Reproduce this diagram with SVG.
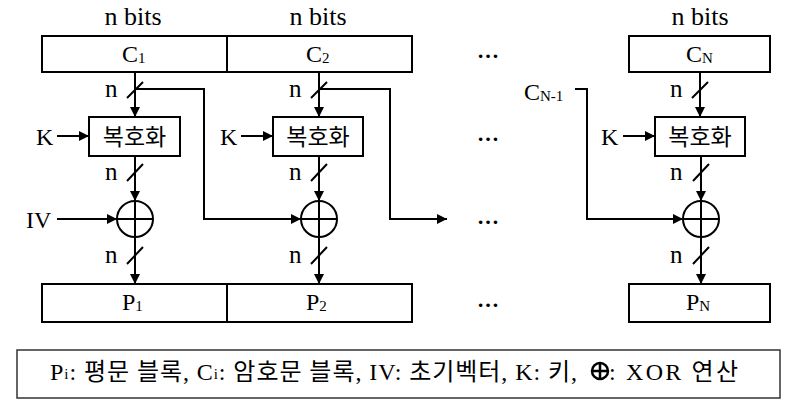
<svg xmlns="http://www.w3.org/2000/svg" width="800" height="410" viewBox="0 0 800 410">
<style>
text{font-family:"Liberation Serif","Noto Sans CJK KR",serif;fill:#000;font-size:24px}
.c{text-anchor:middle}
.box{fill:#fff;stroke:#000;stroke-width:2}
.ln{fill:none;stroke:#000;stroke-width:2}
.sl{stroke:#000;stroke-width:2}
.sub{font-size:15px}
.nb{font-size:26px;text-anchor:middle}
.n{font-size:25px}
.kr{font-size:23px;text-anchor:middle}
.dots{font-size:22px;font-weight:bold;text-anchor:middle}
.lg{font-size:24px}
</style>
<defs>
<marker id="ah" viewBox="0 0 10 10" refX="10" refY="5" markerWidth="10" markerHeight="10" markerUnits="userSpaceOnUse" orient="auto">
<path d="M0,0 L10,5 L0,10 z" fill="#000"/>
</marker>
</defs>
<rect width="800" height="410" fill="#fff"/>

<g id="labels-top">
<text class="nb" x="133" y="25">n bits</text>
<text class="nb" x="318" y="25">n bits</text>
<text class="nb" x="700" y="25">n bits</text>
</g>

<g id="c1"><rect class="box" x="42" y="36" width="185" height="36"/><text x="122" y="62">C<tspan class="sub" dy="1">1</tspan></text></g>
<g id="c2"><rect class="box" x="227" y="36" width="185" height="36"/><text x="306" y="62">C<tspan class="sub" dy="1">2</tspan></text></g>
<g id="cn"><rect class="box" x="629" y="36" width="141" height="36"/><text x="686" y="62">C<tspan class="sub" dy="1">N</tspan></text></g>

<g id="d1"><rect class="box" x="89" y="117" width="91" height="39"/><text class="kr" x="134.5" y="145">복호화</text></g>
<g id="d2"><rect class="box" x="273" y="117" width="90" height="39"/><text class="kr" x="318" y="145">복호화</text></g>
<g id="dn"><rect class="box" x="655" y="117" width="90" height="39"/><text class="kr" x="700" y="145">복호화</text></g>

<g id="x1"><circle class="ln" cx="135" cy="219" r="18"/><path class="ln" d="M117,219 H153 M135,201 V237"/></g>
<g id="x2"><circle class="ln" cx="319" cy="219" r="18"/><path class="ln" d="M301,219 H337 M319,201 V237"/></g>
<g id="xn"><circle class="ln" cx="701" cy="219" r="18"/><path class="ln" d="M683,219 H719 M701,201 V237"/></g>

<g id="p1"><rect class="box" x="42" y="284" width="185" height="38"/><text x="122" y="310">P<tspan class="sub" dy="1">1</tspan></text></g>
<g id="p2"><rect class="box" x="227" y="284" width="185" height="38"/><text x="306" y="310">P<tspan class="sub" dy="1">2</tspan></text></g>
<g id="pn"><rect class="box" x="629" y="284" width="141" height="38"/><text x="686" y="310">P<tspan class="sub" dy="1">N</tspan></text></g>

<g id="inputs">
<text x="36" y="145">K</text>
<text x="220" y="145">K</text>
<text x="601" y="145">K</text>
<text x="26" y="228">IV</text>
<text x="524" y="100">C<tspan class="sub" dy="1">N-1</tspan></text>
</g>

<g id="dots">
<text class="dots" x="488" y="58">…</text>
<text class="dots" x="488" y="141">…</text>
<text class="dots" x="488" y="224">…</text>
<text class="dots" x="488" y="307">…</text>
</g>

<g id="nlabels">
<text class="n" x="105" y="97">n</text><text class="n" x="289" y="97">n</text><text class="n" x="670" y="97">n</text>
<text class="n" x="105" y="180">n</text><text class="n" x="289" y="180">n</text><text class="n" x="670" y="180">n</text>
<text class="n" x="105" y="263">n</text><text class="n" x="289" y="263">n</text><text class="n" x="670" y="263">n</text>
</g>

<g id="connectors">
<path class="ln" d="M135,72 V117" marker-end="url(#ah)"/>
<path class="ln" d="M319,72 V117" marker-end="url(#ah)"/>
<path class="ln" d="M700,72 V117" marker-end="url(#ah)"/>
<path class="ln" d="M135,156 V201" marker-end="url(#ah)"/>
<path class="ln" d="M319,156 V201" marker-end="url(#ah)"/>
<path class="ln" d="M701,156 V201" marker-end="url(#ah)"/>
<path class="ln" d="M135,237 V284" marker-end="url(#ah)"/>
<path class="ln" d="M319,237 V284" marker-end="url(#ah)"/>
<path class="ln" d="M701,237 V284" marker-end="url(#ah)"/>
<path class="ln" d="M57,136 H89" marker-end="url(#ah)"/>
<path class="ln" d="M241,136 H273" marker-end="url(#ah)"/>
<path class="ln" d="M623,136 H655" marker-end="url(#ah)"/>
<path class="ln" d="M57,219 H117" marker-end="url(#ah)"/>
<path class="ln" d="M135,89 H204 V219 H301" marker-end="url(#ah)"/>
<path class="ln" d="M319,89 H390 V219 H447" marker-end="url(#ah)"/>
<path class="ln" d="M575,89 H587 V219 H683" marker-end="url(#ah)"/>
<path class="sl" d="M127,98 L143,82 M311,98 L327,82 M692,98 L708,82"/>
<path class="sl" d="M127,181 L143,164 M311,181 L327,164 M693,181 L709,164"/>
<path class="sl" d="M127,264 L143,247 M311,264 L327,247 M693,264 L709,247"/>
</g>

<g id="legend">
<rect x="17" y="350" width="763" height="48" fill="#fff" stroke="#333" stroke-width="1.5"/>
<text class="lg" x="50" y="380" textLength="527" lengthAdjust="spacing">P<tspan class="sub" dy="-1">i</tspan><tspan dy="1">: 평문 블록, C</tspan><tspan class="sub" dy="-1">i</tspan><tspan dy="1">: 암호문 블록, IV: 초기벡터, K: 키,</tspan></text>
<circle cx="600" cy="371" r="8" fill="none" stroke="#000" stroke-width="2.5"/>
<path d="M592,371 H608 M600,363 V379" stroke="#000" stroke-width="2.5"/>
<text class="lg" x="609" y="380" textLength="129" lengthAdjust="spacing">: XOR 연산</text>
</g>
</svg>
